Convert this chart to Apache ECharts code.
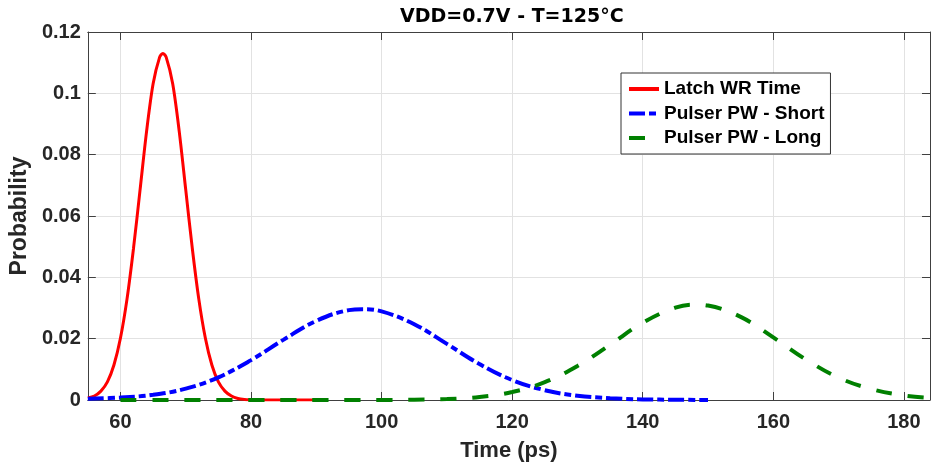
<!DOCTYPE html>
<html><head><meta charset="utf-8">
<script src="https://cdn.jsdelivr.net/npm/echarts@6/dist/echarts.min.js"></script>
<style>html,body{margin:0;padding:0;background:#fff}#c{width:933px;height:467px}</style>
</head><body><div id="c"></div>
<script>
const titleText = 'VDD=0.7V - T=125°C';
const xName = 'Time (ps)';
const yName = 'Probability';
const seriesNames = ['Latch WR Time', 'Pulser PW - Short', 'Pulser PW - Long'];

const redX = [55,56,57,58,59,60,61,62,63,64,65,66,66.5,67,68,69,70,71,72,73,74,75,76,77,78,79,80,82,84,86,88,90];
const redY = [0.0007,0.0013,0.0029,0.0059,0.0114,0.0202,0.0329,0.0495,0.0685,0.0876,0.1031,0.1118,0.1130,0.1118,0.1031,0.0876,0.0685,0.0495,0.0329,0.0202,0.0114,0.0059,0.0029,0.0013,0.0005,0.0002,0.0001,0,0,0,0,0];

const blueX = [55,60,65,70,75,80,85,90,95,97,100,105,110,115,120,125,130,135,140,145,150];
const blueY = [0.0004,0.0008,0.0017,0.0037,0.0074,0.0130,0.0197,0.0258,0.0293,0.0296,0.0289,0.0247,0.0183,0.0117,0.0065,0.0032,0.0014,0.0006,0.0002,0.0001,0];

const greenX = [60,65,70,75,80,85,90,95,100,105,110,115,120,125,130,135,140,145,148,150,155,160,165,170,175,180,184];
const greenY = [0,0,0,0,0,0,0,0,0,0.0001,0.0003,0.0010,0.0026,0.0058,0.0111,0.0180,0.0252,0.0301,0.0311,0.0308,0.0271,0.0204,0.0132,0.0073,0.0036,0.0015,0.0007];

const xTicks = [60,80,100,120,140,160,180];
const yTicks = [0,0.02,0.04,0.06,0.08,0.1,0.12];
const yTickLabels = ['0','0.02','0.04','0.06','0.08','0.1','0.12'];

const FONT = "'Liberation Sans', Arial, Helvetica, sans-serif";
const AXIS_COLOR = '#404040';
const GRID_COLOR = '#e2e2e2';

function pairs(xs, ys) { return xs.map((x, i) => [x, ys[i]]); }

const chart = echarts.init(document.getElementById('c'), null, {renderer: 'canvas'});
chart.setOption({
  animation: false,
  backgroundColor: '#ffffff',
  title: {
    text: titleText,
    left: 400, top: 8, padding: 0,
    textStyle: {fontFamily: "'DejaVu Sans', sans-serif", fontWeight: 'bold', fontSize: 19, color: '#000'}
  },
  legend: {
    data: seriesNames,
    orient: 'vertical',
    left: 621, top: 73,
    padding: [6, 6, 6, 6],
    itemWidth: 30, itemHeight: 14, itemGap: 4.5,
    itemStyle: {opacity: 0},
    lineStyle: {width: 4},
    borderColor: '#333', borderWidth: 1, backgroundColor: '#fff',
    textStyle: {fontFamily: FONT, fontWeight: 'bold', fontSize: 19, lineHeight: 20, color: '#000'}
  },
  grid: {left: 85, right: 3, top: 32, bottom: 67, containLabel: false},
  xAxis: [{
    type: 'value', min: 55, max: 184, position: 'bottom',
    name: xName, nameLocation: 'middle', nameGap: 40,
    nameTextStyle: {fontFamily: FONT, fontWeight: 'bold', fontSize: 22, color: '#262626'},
    axisLine: {show: true, onZero: false, lineStyle: {color: AXIS_COLOR, width: 1}},
    axisTick: {show: true, inside: true, length: 8, customValues: xTicks, lineStyle: {color: AXIS_COLOR}},
    axisLabel: {show: true, margin: 12, customValues: xTicks, fontFamily: FONT, fontWeight: 'bold', fontSize: 20, color: '#262626'},
    splitLine: {show: true, lineStyle: {color: GRID_COLOR, width: 1}}
  }, {
    type: 'value', min: 55, max: 184, position: 'top',
    axisLine: {show: true, onZero: false, lineStyle: {color: AXIS_COLOR, width: 1}},
    axisTick: {show: true, inside: true, length: 8, customValues: xTicks, lineStyle: {color: AXIS_COLOR}},
    axisLabel: {show: false},
    splitLine: {show: false}
  }],
  yAxis: [{
    type: 'value', min: 0, max: 0.12, interval: 0.02, position: 'left',
    name: yName, nameLocation: 'middle', nameGap: 53,
    nameTextStyle: {fontFamily: FONT, fontWeight: 'bold', fontSize: 23, color: '#262626'},
    axisLine: {show: true, onZero: false, lineStyle: {color: AXIS_COLOR, width: 1}},
    axisTick: {show: true, inside: true, length: 8, lineStyle: {color: AXIS_COLOR}},
    axisLabel: {show: true, margin: 7, fontFamily: FONT, fontWeight: 'bold', fontSize: 20, color: '#262626',
      formatter: v => { const i = yTicks.findIndex(t => Math.abs(t - v) < 1e-9); return i >= 0 ? yTickLabels[i] : ''; }},
    splitLine: {show: true, lineStyle: {color: GRID_COLOR, width: 1}}
  }, {
    type: 'value', min: 0, max: 0.12, interval: 0.02, position: 'right',
    axisLine: {show: true, onZero: false, lineStyle: {color: AXIS_COLOR, width: 1}},
    axisTick: {show: true, inside: true, length: 8, lineStyle: {color: AXIS_COLOR}},
    axisLabel: {show: false},
    splitLine: {show: false}
  }],
  series: [{
    name: seriesNames[0], type: 'line', xAxisIndex: 0, yAxisIndex: 0,
    data: pairs(redX, redY), symbol: 'none', smooth: 0.3, color: '#ff0000',
    lineStyle: {color: '#ff0000', width: 3, type: 'solid'}
  }, {
    name: seriesNames[1], type: 'line', xAxisIndex: 0, yAxisIndex: 0,
    data: pairs(blueX, blueY), symbol: 'none', smooth: 0.4, color: '#0000ff',
    lineStyle: {color: '#0000ff', width: 4, type: [16, 4, 7, 4]}
  }, {
    name: seriesNames[2], type: 'line', xAxisIndex: 0, yAxisIndex: 0,
    data: pairs(greenX, greenY), symbol: 'none', smooth: 0.4, color: '#008000',
    lineStyle: {color: '#008000', width: 4, type: [16, 16]}
  }]
});
</script>
</body></html>
